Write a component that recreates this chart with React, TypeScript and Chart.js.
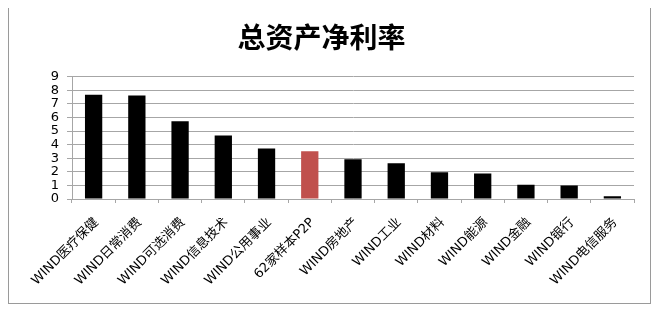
import React, { useEffect, useRef } from "react";
import { Chart, registerables } from "chart.js";

Chart.register(...registerables);

const categories = [
  "WIND医疗保健",
  "WIND日常消费",
  "WIND可选消费",
  "WIND信息技术",
  "WIND公用事业",
  "62家样本P2P",
  "WIND房地产",
  "WIND工业",
  "WIND材料",
  "WIND能源",
  "WIND金融",
  "WIND银行",
  "WIND电信服务",
];

const values = [7.66, 7.61, 5.72, 4.67, 3.71, 3.52, 2.93, 2.62, 1.97, 1.88, 1.05, 1.0, 0.2];

const barColors = categories.map((c) => (c === "62家样本P2P" ? "#C0504D" : "#000000"));

const yMin = 0;
const yMax = 9;
const yStep = 1;

export default function App() {
  const ref = useRef<HTMLCanvasElement>(null);

  useEffect(() => {
    if (!ref.current) return;
    const chart = new Chart(ref.current, {
      type: "bar",
      data: {
        labels: categories,
        datasets: [
          {
            data: values,
            backgroundColor: barColors,
            borderWidth: 0,
            categoryPercentage: 1,
            barPercentage: 0.4,
          },
        ],
      },
      options: {
        responsive: false,
        animation: false,
        layout: { padding: { left: 0, right: 16, top: 0, bottom: 0 } },
        plugins: {
          legend: { display: false },
          tooltip: { enabled: false },
          title: {
            display: true,
            text: "总资产净利率",
            color: "#000",
            font: { family: "'Noto Sans CJK SC'", size: 28, weight: "bold", lineHeight: 1.2 },
            padding: { top: 13, bottom: 22 },
          },
        },
        scales: {
          x: {
            grid: {
              display: true,
              drawOnChartArea: false,
              drawTicks: true,
              tickLength: 4,
              color: "#a6a6a6",
              offset: true,
            },
            border: { display: true, color: "#a6a6a6" },
            ticks: {
              autoSkip: false,
              maxRotation: 45,
              minRotation: 45,
              color: "#000",
              padding: 12,
              labelOffset: 3,
              font: { family: "'DejaVu Sans', 'Noto Sans CJK SC'", size: 13 },
            },
            afterFit: (scale: any) => {
              scale.height = 104;
            },
          },
          y: {
            min: yMin,
            max: yMax,
            grid: {
              color: "#a6a6a6",
              tickLength: 5,
            },
            border: { display: true, color: "#a6a6a6" },
            ticks: {
              stepSize: yStep,
              autoSkip: false,
              color: "#000",
              padding: 8,
              font: { family: "'DejaVu Sans'", size: 13 },
            },
            afterFit: (scale: any) => {
              scale.width = 63;
            },
          },
        },
      },
    });
    return () => chart.destroy();
  }, []);

  return (
    <div
      style={{
        width: 643,
        height: 297,
        marginTop: -1,
        border: "1px solid #9a9a9a",
        boxSizing: "border-box",
        background: "#fff",
      }}
    >
      <canvas ref={ref} width={641} height={295} style={{ display: "block" }} />
    </div>
  );
}
